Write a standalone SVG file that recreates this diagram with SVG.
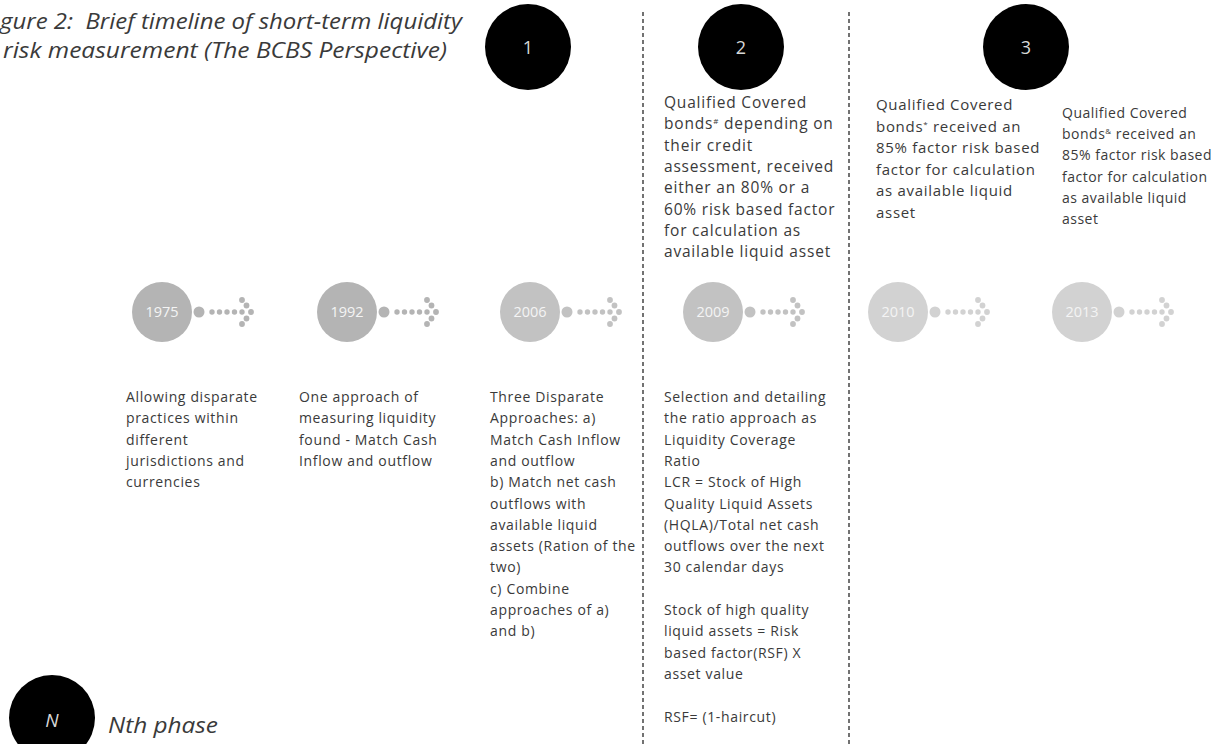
<svg xmlns="http://www.w3.org/2000/svg" width="1223" height="744" viewBox="0 0 1223 744">
<style>
.title{font-family:"Open Sans","Liberation Sans",sans-serif;font-style:italic;font-size:22px;fill:#3a3a3a;white-space:pre}
.body{font-family:"Open Sans","Liberation Sans",sans-serif;font-size:14px;letter-spacing:0.65px;fill:#3a3a3a}
.up9{font-family:"Open Sans","Liberation Sans",sans-serif;font-size:15.5px;letter-spacing:0.8px;fill:#3a3a3a}
.up10{font-family:"Open Sans","Liberation Sans",sans-serif;font-size:15px;letter-spacing:0.7px;fill:#3a3a3a}
.up13{font-family:"Open Sans","Liberation Sans",sans-serif;font-size:14px;letter-spacing:0.5px;fill:#3a3a3a}
.num{font-family:"Open Sans","Liberation Sans",sans-serif;font-size:18px;fill:#d8d8d8;text-anchor:middle}
.yr{font-family:"Open Sans","Liberation Sans",sans-serif;font-size:14.5px;fill:#f4f4f4;text-anchor:middle}
.sup{font-size:8px}
.divider{stroke:#444;stroke-width:1.5;stroke-dasharray:4 3;fill:none}
</style>
<defs>
<g id="trail">
<circle cx="37" cy="0" r="5.5"/>
<circle cx="50" cy="0" r="2.7"/>
<circle cx="57.5" cy="0" r="2.7"/>
<circle cx="65" cy="0" r="2.7"/>
<circle cx="72.5" cy="0" r="2.7"/>
<circle cx="80" cy="-12" r="2.9"/>
<circle cx="84.5" cy="-6.5" r="2.9"/>
<circle cx="89" cy="0" r="2.9"/>
<circle cx="84.5" cy="6.5" r="2.9"/>
<circle cx="80" cy="12" r="2.9"/>
<circle cx="80" cy="0" r="2.7"/>
</g>
</defs>
<rect width="1223" height="744" fill="#ffffff"/>

<g id="title">
<text class="title" x="0" y="29" textLength="462" lengthAdjust="spacingAndGlyphs">gure 2:  Brief timeline of short-term liquidity</text>
<text class="title" x="3" y="58" textLength="444" lengthAdjust="spacingAndGlyphs">risk measurement (The BCBS Perspective)</text>
</g>

<g id="connectors">
<line class="divider" x1="643" y1="12" x2="643" y2="744"/>
<line class="divider" x1="849" y1="12" x2="849" y2="744"/>
</g>

<g id="phase1">
<circle cx="528" cy="47" r="43" fill="#000"/>
<text class="num" x="528" y="54">1</text>
</g>
<g id="phase2">
<circle cx="741" cy="47" r="43" fill="#000"/>
<text class="num" x="741" y="54">2</text>
</g>
<g id="phase3">
<circle cx="1026" cy="47" r="43" fill="#000"/>
<text class="num" x="1026" y="54">3</text>
</g>

<g id="y1975" fill="#b4b4b4">
<circle cx="162" cy="312" r="30"/>
<use href="#trail" transform="translate(162,312)"/>
<text class="yr" x="162" y="317">1975</text>
</g>
<g id="y1992" fill="#b4b4b4">
<circle cx="347" cy="312" r="30"/>
<use href="#trail" transform="translate(347,312)"/>
<text class="yr" x="347" y="317">1992</text>
</g>
<g id="y2006" fill="#c2c2c2">
<circle cx="530" cy="312" r="30"/>
<use href="#trail" transform="translate(530,312)"/>
<text class="yr" x="530" y="317">2006</text>
</g>
<g id="y2009" fill="#c2c2c2">
<circle cx="713" cy="312" r="30"/>
<use href="#trail" transform="translate(713,312)"/>
<text class="yr" x="713" y="317">2009</text>
</g>
<g id="y2010" fill="#d2d2d2">
<circle cx="898" cy="312" r="30"/>
<use href="#trail" transform="translate(898,312)"/>
<text class="yr" x="898" y="317">2010</text>
</g>
<g id="y2013" fill="#d2d2d2">
<circle cx="1082" cy="312" r="30"/>
<use href="#trail" transform="translate(1082,312)"/>
<text class="yr" x="1082" y="317">2013</text>
</g>

<g id="text1975">
<text class="body" x="126" y="402">
<tspan x="126" dy="0">Allowing disparate</tspan>
<tspan x="126" dy="21.3">practices within</tspan>
<tspan x="126" dy="21.3">different</tspan>
<tspan x="126" dy="21.3">jurisdictions and</tspan>
<tspan x="126" dy="21.3">currencies</tspan>
</text>
</g>
<g id="text1992">
<text class="body" x="299" y="402">
<tspan x="299" dy="0">One approach of</tspan>
<tspan x="299" dy="21.3">measuring liquidity</tspan>
<tspan x="299" dy="21.3">found - Match Cash</tspan>
<tspan x="299" dy="21.3">Inflow and outflow</tspan>
</text>
</g>
<g id="text2006">
<text class="body" x="490" y="402">
<tspan x="490" dy="0">Three Disparate</tspan>
<tspan x="490" dy="21.3">Approaches: a)</tspan>
<tspan x="490" dy="21.3">Match Cash Inflow</tspan>
<tspan x="490" dy="21.3">and outflow</tspan>
<tspan x="490" dy="21.3">b) Match net cash</tspan>
<tspan x="490" dy="21.3">outflows with</tspan>
<tspan x="490" dy="21.3">available liquid</tspan>
<tspan x="490" dy="21.3">assets (Ration of the</tspan>
<tspan x="490" dy="21.3">two)</tspan>
<tspan x="490" dy="21.3">c) Combine</tspan>
<tspan x="490" dy="21.3">approaches of a)</tspan>
<tspan x="490" dy="21.3">and b)</tspan>
</text>
</g>
<g id="text2009">
<text class="body" x="664" y="402">
<tspan x="664" dy="0">Selection and detailing</tspan>
<tspan x="664" dy="21.3">the ratio approach as</tspan>
<tspan x="664" dy="21.3">Liquidity Coverage</tspan>
<tspan x="664" dy="21.3">Ratio</tspan>
<tspan x="664" dy="21.3">LCR = Stock of High</tspan>
<tspan x="664" dy="21.3">Quality Liquid Assets</tspan>
<tspan x="664" dy="21.3">(HQLA)/Total net cash</tspan>
<tspan x="664" dy="21.3">outflows over the next</tspan>
<tspan x="664" dy="21.3">30 calendar days</tspan>
<tspan x="664" dy="42.6">Stock of high quality</tspan>
<tspan x="664" dy="21.3">liquid assets = Risk</tspan>
<tspan x="664" dy="21.3">based factor(RSF) X</tspan>
<tspan x="664" dy="21.3">asset value</tspan>
<tspan x="664" dy="42.6">RSF= (1-haircut)</tspan>
</text>
</g>

<g id="up2009">
<text class="up9" x="664" y="108">
<tspan x="664" dy="0">Qualified Covered</tspan>
<tspan x="664" dy="21.3">bonds<tspan class="sup" dy="-5">#</tspan><tspan dy="5"> depending on</tspan></tspan>
<tspan x="664" dy="21.3">their credit</tspan>
<tspan x="664" dy="21.3">assessment, received</tspan>
<tspan x="664" dy="21.3">either an 80% or a</tspan>
<tspan x="664" dy="21.3">60% risk based factor</tspan>
<tspan x="664" dy="21.3">for calculation as</tspan>
<tspan x="664" dy="21.3">available liquid asset</tspan>
</text>
</g>
<g id="up2010">
<text class="up10" x="876" y="110">
<tspan x="876" dy="0">Qualified Covered</tspan>
<tspan x="876" dy="21.6">bonds<tspan class="sup" dy="-5">*</tspan><tspan dy="5"> received an</tspan></tspan>
<tspan x="876" dy="21.6">85% factor risk based</tspan>
<tspan x="876" dy="21.6">factor for calculation</tspan>
<tspan x="876" dy="21.6">as available liquid</tspan>
<tspan x="876" dy="21.6">asset</tspan>
</text>
</g>
<g id="up2013">
<text class="up13" x="1062" y="118">
<tspan x="1062" dy="0">Qualified Covered</tspan>
<tspan x="1062" dy="21.2">bonds<tspan class="sup" dy="-5">&amp;</tspan><tspan dy="5"> received an</tspan></tspan>
<tspan x="1062" dy="21.2">85% factor risk based</tspan>
<tspan x="1062" dy="21.2">factor for calculation</tspan>
<tspan x="1062" dy="21.2">as available liquid</tspan>
<tspan x="1062" dy="21.2">asset</tspan>
</text>
</g>

<g id="legend">
<circle cx="52" cy="718" r="43" fill="#000"/>
<text x="52" y="727" text-anchor="middle" style="font-family:'Open Sans','Liberation Sans',sans-serif;font-style:italic;font-size:19px;fill:#d8d8d8">N</text>
<text class="title" x="108" y="733" textLength="110" lengthAdjust="spacingAndGlyphs">Nth phase</text>
</g>
</svg>
